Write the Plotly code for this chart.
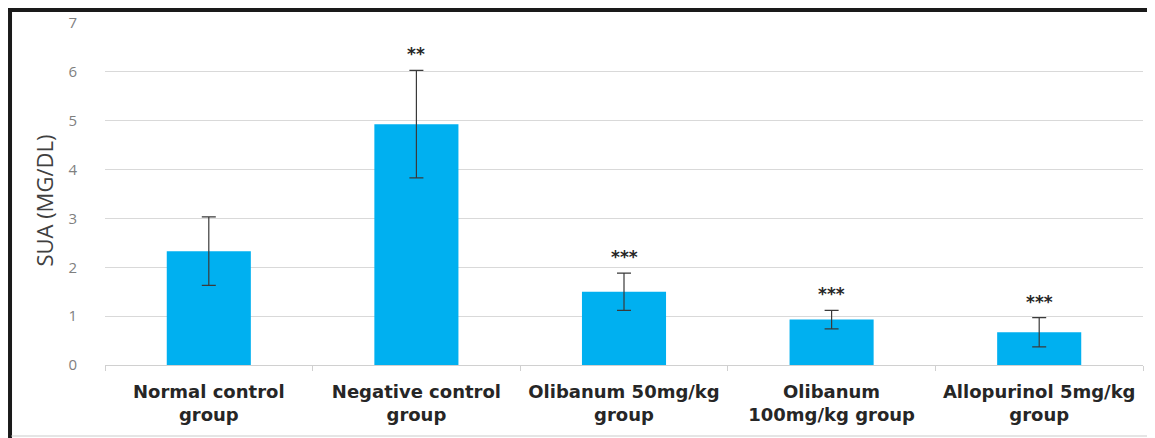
import plotly.graph_objects as go

categories = ["Normal control<br>group", "Negative control<br>group", "Olibanum 50mg/kg<br>group",
              "Olibanum<br>100mg/kg group", "Allopurinol 5mg/kg<br>group"]
sua_means = [2.33, 4.93, 1.50, 0.93, 0.67]
sua_errors = [0.70, 1.10, 0.38, 0.19, 0.30]
significance = ["", "**", "***", "***", "***"]
y_ticks = [0, 1, 2, 3, 4, 5, 6, 7]
y_title = "SUA (MG/DL)"

fig = go.Figure()
fig.add_trace(go.Bar(
    x=categories, y=sua_means,
    marker=dict(color="#00B0F0", line=dict(width=0)),
    error_y=dict(type="data", array=sua_errors, visible=True, color="#3a3a3a", thickness=1.2, width=7),
    width=0.405,
))

for cat, m, e, s in zip(categories, sua_means, sua_errors, significance):
    if s:
        fig.add_annotation(x=cat, y=m + e, text="<b>" + s + "</b>", showarrow=False,
                           yanchor="bottom", yshift=4,
                           font=dict(family="DejaVu Sans", size=17, color="#262626"))

fig.add_annotation(xref="paper", yref="paper", x=-0.059, y=0.48, text=y_title, textangle=-90,
                   showarrow=False, xanchor="center", yanchor="middle",
                   font=dict(family="Open Sans", size=22, color="#404040"))

fig.update_layout(
    width=1147, height=430,
    margin=dict(l=97, r=12, t=15, b=73, autoexpand=False),
    paper_bgcolor="white", plot_bgcolor="white",
    showlegend=False,
    xaxis=dict(
        type="category", showline=True, linecolor="#D0D0D0", linewidth=1,
        ticks="outside", tickson="boundaries", ticklen=5, tickcolor="#D0D0D0",
        tickfont=dict(family="DejaVu Sans", size=18, color="#262626", weight="bold"),
        ticklabelstandoff=10,
        showgrid=False, automargin=False,
    ),
    yaxis=dict(
        range=[0, 7], tickvals=y_ticks, showgrid=True, gridcolor="#D9D9D9", gridwidth=1,
        zeroline=False, showline=False, automargin=False,
        tickfont=dict(family="Open Sans", size=15, color="#7F7F7F"),
        ticklabelstandoff=27,
    ),
    font=dict(family="DejaVu Sans"),
)

# frame
fig.add_shape(type="line", xref="paper", yref="paper", x0=-0.0935, x1=1.02, y0=1.038, y1=1.038,
              line=dict(color="#1a1a1a", width=4), layer="above")
fig.add_shape(type="line", xref="paper", yref="paper", x0=-0.0915, x1=-0.0915, y0=-0.215, y1=1.045,
              line=dict(color="#1a1a1a", width=4), layer="above")
fig.add_shape(type="line", xref="paper", yref="paper", x0=-0.09, x1=1.02, y0=-0.2076, y1=-0.2076,
              line=dict(color="#DDDDDD", width=1.5), layer="above")

fig.write_html("out.html")
